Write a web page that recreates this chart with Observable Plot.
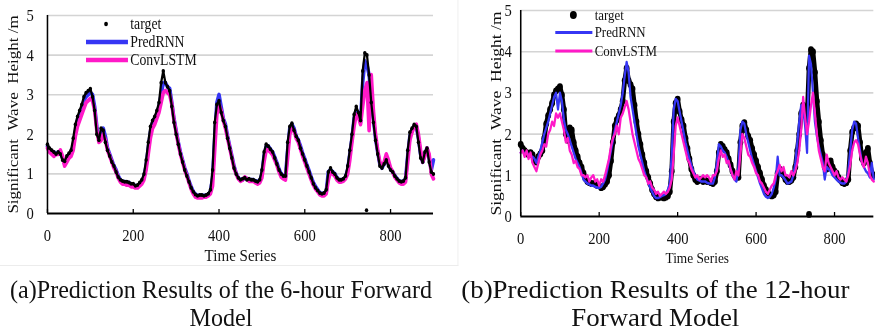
<!DOCTYPE html>
<html><head><meta charset="utf-8">
<script src="https://cdn.jsdelivr.net/npm/d3@7"></script>
<script src="https://cdn.jsdelivr.net/npm/@observablehq/plot@0.6"></script>
<style>
html,body{margin:0;padding:0;background:#fff;}
#wrap{position:relative;width:1018px;height:333px;transform:scaleX(0.86);transform-origin:0 0;font-family:"Liberation Serif","Times New Roman",serif;color:#111;}
.panel{position:absolute;top:0;}
.box{position:absolute;left:0;top:0;width:532px;height:265px;border-right:1px solid #ececec;border-bottom:1px solid #ececec;}
.cap{position:absolute;width:560px;height:28px;text-align:center;font-size:25px;line-height:28px;white-space:nowrap;transform-origin:50% 50%;}
</style></head><body>
<div id="wrap">
  <div class="box"></div>
  <div class="panel" id="pa" style="left:0"></div>
  <div class="panel" id="pb" style="left:512px"></div>
  <div class="cap" style="left:-23px;top:276px;transform:scaleX(1.12)">(a)Prediction Results of the 6-hour Forward</div>
  <div class="cap" style="left:-23px;top:304px;transform:scaleX(1.12)">Model</div>
  <div class="cap" style="left:482px;top:276px;transform:scaleX(1.25)">(b)Prediction Results of the 12-hour</div>
  <div class="cap" style="left:482px;top:304px;transform:scaleX(1.25)">Forward Model</div>
</div>
<script>
// ---- data (sampled every 5 time steps, t = 0..900) ----
const step = 5;
const target = [1.75,1.65,1.6,1.55,1.5,1.55,1.5,1.35,1.32,1.45, 1.52,1.6,1.9,2.25,2.45,2.6,2.75,2.95,3.05,3.1,
 3.15,2.95,2.6,2.0,1.85,2.15,2.1,1.8,1.6,1.45, 1.3,1.2,1.05,0.92,0.85,0.82,0.8,0.8,0.78,0.75,
 0.75,0.7,0.72,0.78,0.85,1.0,1.35,1.8,2.2,2.35, 2.45,2.6,2.8,3.3,3.6,3.3,3.2,3.1,2.7,2.3,
 2.0,1.75,1.5,1.3,1.1,0.95,0.8,0.65,0.55,0.48, 0.45,0.47,0.47,0.45,0.47,0.5,0.6,1.1,2.3,2.75,
 2.85,2.55,2.35,2.2,1.9,1.65,1.4,1.15,1.0,0.9, 0.85,0.88,0.9,0.85,0.88,0.85,0.85,0.82,0.8,0.85,
 1.1,1.55,1.75,1.7,1.62,1.55,1.4,1.25,1.1,1.0, 0.95,0.95,1.8,2.2,2.28,2.1,1.95,1.85,1.65,1.5,
 1.35,1.2,1.05,0.9,0.75,0.65,0.58,0.52,0.5,0.52, 0.6,1.05,1.15,1.05,1.0,0.9,0.85,0.85,0.88,0.95,
 1.2,1.6,2.0,2.5,2.7,2.55,2.35,3.6,4.05,4.0, 3.5,2.8,2.3,1.85,1.5,1.2,1.15,1.25,1.35,1.2,
 1.1,1.05,0.95,0.88,0.82,0.8,0.82,0.9,1.6,2.05, 2.15,2.25,2.2,1.8,1.4,1.3,1.55,1.65,1.3,1.05,
 1.0];
const predRNN6 = [1.7,1.6,1.55,1.55,1.5,1.55,1.55,1.4,1.25,1.35, 1.45,1.55,1.7,2.05,2.35,2.5,2.65,2.85,2.95,3.0,
 3.05,3.0,2.7,2.2,1.9,2.0,2.15,1.95,1.65,1.5, 1.35,1.2,1.1,0.95,0.85,0.8,0.8,0.78,0.78,0.72,
 0.72,0.7,0.68,0.75,0.8,0.92,1.2,1.65,2.05,2.3, 2.4,2.5,2.7,3.0,3.3,3.3,3.2,3.15,2.8,2.4,
 2.1,1.8,1.55,1.35,1.15,1.0,0.82,0.68,0.55,0.48, 0.45,0.45,0.45,0.45,0.45,0.48,0.55,0.9,1.9,2.8,
 3.0,2.7,2.4,2.25,1.95,1.7,1.45,1.2,1.02,0.9, 0.85,0.85,0.9,0.88,0.85,0.85,0.85,0.82,0.8,0.82,
 1.0,1.45,1.7,1.7,1.62,1.55,1.42,1.28,1.12,1.0, 0.95,0.93,1.6,2.15,2.25,2.15,1.95,1.85,1.7,1.52,
 1.38,1.22,1.08,0.92,0.78,0.68,0.6,0.52,0.5,0.5, 0.55,1.05,1.1,1.05,1.0,0.9,0.85,0.85,0.85,0.92,
 1.1,1.5,1.9,2.4,2.6,2.5,2.3,3.3,3.85,3.75, 3.5,2.9,2.4,1.9,1.55,1.25,1.15,1.25,1.4,1.25,
 1.12,1.05,0.95,0.88,0.82,0.8,0.8,0.88,1.45,1.95, 2.1,2.2,2.2,1.9,1.5,1.3,1.5,1.65,1.4,1.1,
 1.35];
const convLSTM6 = [1.65,1.55,1.5,1.45,1.5,1.5,1.6,1.45,1.2,1.3, 1.4,1.45,1.6,1.95,2.2,2.35,2.5,2.65,2.8,2.85,
 2.9,2.85,2.6,2.1,1.8,1.85,2.0,1.85,1.6,1.45, 1.3,1.15,1.05,0.9,0.8,0.75,0.75,0.72,0.72,0.68,
 0.68,0.65,0.65,0.7,0.75,0.85,1.1,1.5,1.9,2.15, 2.25,2.4,2.55,2.8,3.05,3.1,3.05,3.0,2.75,2.35,
 2.05,1.75,1.5,1.3,1.1,0.95,0.78,0.62,0.5,0.42, 0.4,0.4,0.4,0.42,0.42,0.45,0.5,0.7,1.6,2.5,
 2.75,2.6,2.35,2.15,1.9,1.65,1.4,1.15,1.0,0.88, 0.82,0.85,0.92,0.88,0.82,0.82,0.82,0.78,0.75,0.78,
 0.9,1.3,1.6,1.6,1.55,1.48,1.35,1.22,1.05,0.92, 0.88,0.85,1.4,2.0,2.15,2.1,1.9,1.8,1.62,1.45,
 1.3,1.15,1.0,0.85,0.72,0.62,0.55,0.48,0.45,0.45, 0.5,0.85,1.05,1.0,0.95,0.85,0.8,0.8,0.82,0.88,
 1.0,1.35,1.8,2.2,2.5,2.45,2.25,2.7,3.1,3.3, 2.1,3.5,2.6,2.0,1.6,1.3,1.2,1.3,1.5,1.35,
 1.15,1.05,0.92,0.85,0.78,0.75,0.75,0.8,1.3,1.85, 2.05,2.2,2.25,2.0,1.6,1.3,1.45,1.65,1.5,1.0,
 0.88];
const predRNN12 = [1.55,1.6,1.5,1.55,1.5,1.45,1.45,1.4,1.3,1.45, 1.6,1.8,2.0,2.15,2.3,2.5,2.7,2.9,3.0,2.6,
 3.0,2.8,2.35,2.1,2.0,1.85,1.7,1.55,1.4,1.3, 1.2,1.05,0.9,0.85,0.8,0.78,0.75,0.75,0.72,0.7,
 0.7,0.72,0.8,0.9,1.1,1.35,1.6,1.85,2.1,2.3, 2.5,2.7,3.0,3.4,3.75,3.5,2.9,2.6,2.3,2.0,
 1.7,1.5,1.3,1.1,0.95,0.82,0.7,0.6,0.5,0.45, 0.45,0.47,0.5,0.52,0.55,0.65,0.8,1.5,2.6,2.85,
 2.8,2.55,2.3,2.05,1.8,1.6,1.4,1.25,1.1,1.0, 0.9,0.88,0.85,0.85,0.85,0.82,0.8,0.8,0.8,0.95,
 1.3,1.75,1.7,1.6,1.55,1.45,1.3,1.15,1.0,0.9, 0.85,1.2,2.1,2.3,2.25,2.0,1.8,1.6,1.4,1.25,
 1.1,0.95,0.8,0.68,0.55,0.48,0.45,0.48,0.55,0.7, 0.9,1.45,1.0,1.0,0.95,0.88,0.8,0.82,0.85,1.0,
 1.3,1.8,2.3,2.7,2.6,2.2,1.55,3.9,3.7,3.0, 2.3,1.95,1.7,1.5,1.3,0.9,1.2,1.15,1.1,1.0,
 0.95,0.9,0.85,0.82,0.8,0.8,0.85,1.1,1.6,2.1, 2.3,2.25,1.9,1.6,1.3,1.2,1.1,1.05,0.95,1.3,
 0.9];
const convLSTM12 = [1.55,1.6,1.45,1.6,1.4,1.55,1.3,1.2,1.1,1.3, 1.5,1.6,1.75,1.7,2.0,2.1,2.3,2.2,2.5,2.4,
 2.5,2.3,2.1,1.8,1.9,1.6,1.5,1.3,1.35,1.2, 1.15,1.0,1.0,0.95,1.0,0.85,0.95,1.0,0.85,0.9,
 0.75,0.9,0.85,1.0,1.2,1.4,1.7,1.9,2.0,2.2, 2.0,2.4,2.5,2.65,2.8,2.6,2.3,2.0,1.8,1.6,
 1.4,1.3,1.15,1.0,0.95,0.8,0.85,0.7,0.65,0.55, 0.6,0.5,0.55,0.6,0.55,0.6,0.7,0.9,1.5,2.2,
 2.4,2.2,2.0,1.8,1.6,1.4,1.3,1.15,1.05,0.95, 1.0,0.9,0.95,1.0,0.95,1.0,0.95,0.85,1.0,1.0,
 1.1,1.4,1.6,1.45,1.5,1.3,1.35,1.15,1.0,0.9, 1.1,1.0,1.5,2.0,1.9,1.7,1.5,1.45,1.3,1.2,
 1.05,1.0,0.85,0.8,0.7,0.6,0.55,0.65,0.75,0.8, 1.0,1.1,1.25,1.1,1.2,1.0,1.0,0.95,1.1,1.0,
 1.1,1.3,1.6,2.1,2.9,2.4,2.0,2.3,2.7,3.0, 2.5,2.0,1.6,1.4,1.2,1.1,1.5,1.3,1.2,1.1,
 1.0,1.1,0.95,0.9,0.95,0.9,0.85,1.0,1.25,1.6, 1.8,1.85,1.75,1.5,1.3,1.2,1.45,1.3,1.0,0.9,
 0.85];
// isolated near-zero observation
const outlier6T = [744], outlier6V = [0.08];
const outlier12T = [735], outlier12V = [0.05];
const xTicks = [0, 200, 400, 600, 800];
const yTicks = [0, 1, 2, 3, 4, 5];
const seriesNames = ["target", "PredRNN", "ConvLSTM"];
const xTitle = "Time Series";
const yTitle = "Significant\u00a0\u00a0Wave\u00a0\u00a0Height /m";

const time = target.map((_, i) => i * step);
const BLUE = "#3636f4", PINK = "#ff19c8";
const FONT = '"Liberation Serif","Times New Roman",serif';

function panel(cfg) {
  const rows = time.map((t, i) => ({t, target: target[i], pred: cfg.pred[i], conv: cfg.conv[i]}));
  const outl = cfg.oT.map((t, i) => ({t, v: cfg.oV[i]}));
  const lines = [
    Plot.line(rows, {x: "t", y: "pred", stroke: BLUE, strokeWidth: cfg.lw}),
    Plot.line(rows, {x: "t", y: "conv", stroke: PINK, strokeWidth: cfg.lw})
  ];
  // dense observation dots (band drawn under the dots to render the dense sampling)
  const dots = [
    Plot.line(rows, {x: "t", y: "target", stroke: "#000", strokeWidth: cfg.bw}),
    Plot.dot(rows, {x: "t", y: "target", r: cfg.r, fill: "#000", stroke: null}),
    Plot.dot(outl, {x: "t", y: "v", r: cfg.r, fill: "#000", stroke: null})
  ];
  const svg = Plot.plot({
    width: cfg.width, height: 265,
    marginLeft: cfg.ml, marginRight: cfg.mr, marginTop: cfg.mt, marginBottom: 265 - cfg.y0,
    x: {domain: [0, 900]},
    y: {domain: [0, 5]},
    style: {fontFamily: FONT, fontSize: "17px", color: "#111", background: "transparent", overflow: "visible"},
    marks: [
      Plot.gridY(yTicks.slice(1), {stroke: "#d4d4d4", strokeOpacity: 1, strokeWidth: 1.6}),
      Plot.axisY({ticks: yTicks, tickSize: 0, tickPadding: cfg.yPad, fontSize: 17, tickFormat: d3.format("d"), label: null}),
      Plot.axisX({ticks: xTicks, tickSize: 0, tickPadding: 15.5, fontSize: 17, tickFormat: d3.format("d"), label: null}),
      Plot.axisX({ticks: xTicks, tickSize: -4, tickFormat: () => "", label: null, stroke: "#000", strokeWidth: 1.5}),
      Plot.text([xTitle], {frameAnchor: "bottom", dy: 42, fontSize: cfg.xfs, lineAnchor: "middle", textAnchor: "middle", fill: "#111"}),
      Plot.text([yTitle], {frameAnchor: "left", dx: cfg.ydx, rotate: -90, fontSize: cfg.yfs, lineAnchor: "middle", textAnchor: "middle", fill: "#111"}),
      ...(cfg.dotsFirst ? [...dots, ...lines] : [...lines, ...dots]),
      Plot.ruleX([0], {stroke: "#000", strokeWidth: 1.8}),
      Plot.ruleY([0], {stroke: "#000", strokeWidth: 1.8})
    ]
  });
  // legend
  const L = cfg.lg;
  const g = d3.select(svg).append("g").attr("font-family", FONT).attr("font-size", L.fs).attr("fill", "#111").attr("text-anchor", "start");
  g.append("circle").attr("cx", L.dotX).attr("cy", L.y[0]).attr("r", L.dotR).attr("fill", "#000");
  g.append("line").attr("x1", L.x1).attr("x2", L.x2).attr("y1", L.y[1]).attr("y2", L.y[1]).attr("stroke", BLUE).attr("stroke-width", L.lw);
  g.append("line").attr("x1", L.x1).attr("x2", L.x2).attr("y1", L.y[2]).attr("y2", L.y[2]).attr("stroke", PINK).attr("stroke-width", L.lw);
  seriesNames.forEach((name, i) => {
    g.append("text").attr("x", L.tx).attr("y", L.y[i]).attr("dy", "0.33em").attr("text-anchor", "start").text(name);
  });
  return svg;
}

document.getElementById("pa").appendChild(panel({
  pred: predRNN6, conv: convLSTM6, oT: outlier6T, oV: outlier6V,
  width: 512, ml: 54.7, mr: 8.5, mt: 15, y0: 213, yPad: 16, lw: 4.2, r: 2.0, bw: 2.6,
  xfs: 17.5, yfs: 17, ydx: -39.5, dotsFirst: false,
  lg: {fs: 16, dotX: 123.3, dotR: 2.2, x1: 100, x2: 148.8, tx: 151.5, y: [24, 42, 60], lw: 4.5}
}));
document.getElementById("pb").appendChild(panel({
  pred: predRNN12, conv: convLSTM12, oT: outlier12T, oV: outlier12V,
  width: 506, ml: 93, mr: 2.5, mt: 10, y0: 216, yPad: 10.5, lw: 2.6, r: 3.4, bw: 5.5,
  xfs: 15.5, yfs: 17.5, ydx: -29, dotsFirst: true,
  lg: {fs: 15, dotX: 154.7, dotR: 4, x1: 133.7, x2: 176.8, tx: 179.5, y: [15, 32.5, 51], lw: 3}
}));
</script>
</body></html>
